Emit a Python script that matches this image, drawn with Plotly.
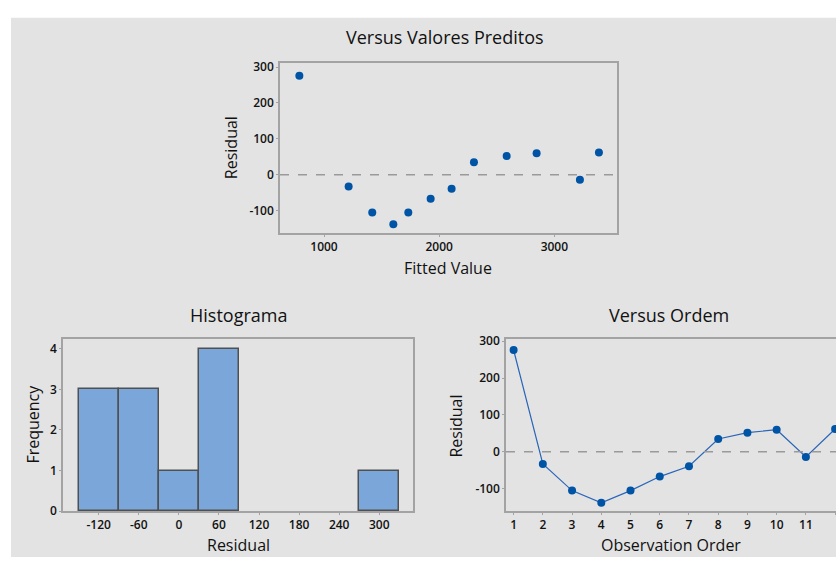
import plotly.graph_objects as go

# ---- data ----
fitted = [786, 1214, 1419, 1602, 1732, 1926, 2108, 2302, 2586, 2846, 3222, 3387]
residuals = [276, -33, -105, -138, -105, -67, -39, 35, 52, 60, -14, 62]
order = list(range(1, 13))
hist_ticks = [-120, -60, 0, 60, 120, 180, 240, 300]
resid_ticks = [-100, 0, 100, 200, 300]
fit_ticks = [1000, 2000, 3000]
freq_ticks = [0, 1, 2, 3, 4]

W, H = 836, 565
FONT = "Open Sans"
TXT = "#111111"
BORDER = "#a3a3a3"
MARK = "#0054a6"

def fx(px):
    return px / W

def fy(py):
    return 1 - py / H

def labels(vals):
    return [str(v) for v in vals]

fig = go.Figure()

# top: versus fitted
fig.add_trace(go.Scatter(x=fitted, y=residuals, mode="markers",
                         marker=dict(color=MARK, size=8), xaxis="x", yaxis="y",
                         showlegend=False))
# histogram
fig.add_trace(go.Histogram(x=residuals, xbins=dict(start=-150, end=330, size=60),
                           marker=dict(color="#7ba6d9", line=dict(color="#505050", width=1.5)),
                           xaxis="x2", yaxis="y2", showlegend=False))
# versus order
fig.add_trace(go.Scatter(x=order, y=residuals, mode="lines+markers",
                         line=dict(color="#2a66b8", width=1.2),
                         marker=dict(color=MARK, size=8), xaxis="x3", yaxis="y3",
                         showlegend=False))

axis_common = dict(showgrid=False, zeroline=False, showline=True, linecolor=BORDER,
                   linewidth=1.5, ticks="outside", ticklen=2, tickcolor=BORDER,
                   tickfont=dict(family=FONT, size=12, color=TXT, weight=600))

fig.update_layout(
    width=W, height=H,
    margin=dict(l=0, r=0, t=0, b=0),
    paper_bgcolor="white", plot_bgcolor="white",
    font=dict(family=FONT, color=TXT),
    bargap=0,
    xaxis=dict(domain=[fx(280), fx(617)], range=[618, 3544], tickvals=fit_ticks,
               ticktext=labels(fit_ticks), anchor="y", mirror=True, **axis_common),
    yaxis=dict(domain=[fy(232), fy(58)], range=[-162, 310], tickvals=resid_ticks,
               ticktext=labels(resid_ticks), anchor="x", mirror=True, **axis_common),
    xaxis2=dict(domain=[fx(63), fx(413)], range=[-173.5, 350.5], tickvals=hist_ticks,
                ticktext=labels(hist_ticks), anchor="y2", mirror=True, **axis_common),
    yaxis2=dict(domain=[fy(518), fy(341)], range=[0, 4.24], tickvals=freq_ticks,
                ticktext=labels(freq_ticks), anchor="x2", mirror=True, **axis_common),
    xaxis3=dict(domain=[fx(506), 1.0], range=[0.74, 12.03], tickvals=order,
                ticktext=labels(order), anchor="y3", mirror=True, **axis_common),
    yaxis3=dict(domain=[fy(518), fy(341)], range=[-161, 306], tickvals=resid_ticks,
                ticktext=labels(resid_ticks), anchor="x3", mirror=False, **axis_common),
)

# grey panel background
fig.add_shape(type="rect", xref="paper", yref="paper", x0=fx(11), x1=1.0,
              y0=0, y1=fy(11), fillcolor="#e3e3e3", line=dict(width=0), layer="below")

# zero reference lines
for xa, ya, x0, x1 in [("x", "y", 618, 3544), ("x3", "y3", 0.74, 12.03)]:
    fig.add_shape(type="line", xref=xa, yref=ya, x0=x0, x1=x1, y0=0, y1=0,
                  line=dict(color="#9a9a9a", width=1.5, dash="dash"), layer="above")

def ann(text, x, y, size, angle=0, weight=500):
    fig.add_annotation(text=text, x=fx(x), y=fy(y), xref="paper", yref="paper",
                       showarrow=False, textangle=angle, xanchor="center", yanchor="middle",
                       font=dict(family=FONT, size=size, color=TXT, weight=weight))

# titles
ann("Versus Valores Preditos", 445, 31, 18)
ann("Histograma", 238, 316, 18)
ann("Versus Ordem", 669, 316, 18)
# axis titles
ann("Fitted Value", 448, 268, 16)
ann("Residual", 231, 145, 16, -90)
ann("Frequency", 33, 429, 16, -90)
ann("Residual", 238, 553, 16)
ann("Residual", 456, 430, 16, -90)
ann("Observation Order", 671, 553, 16)

fig.write_html("out.html")
